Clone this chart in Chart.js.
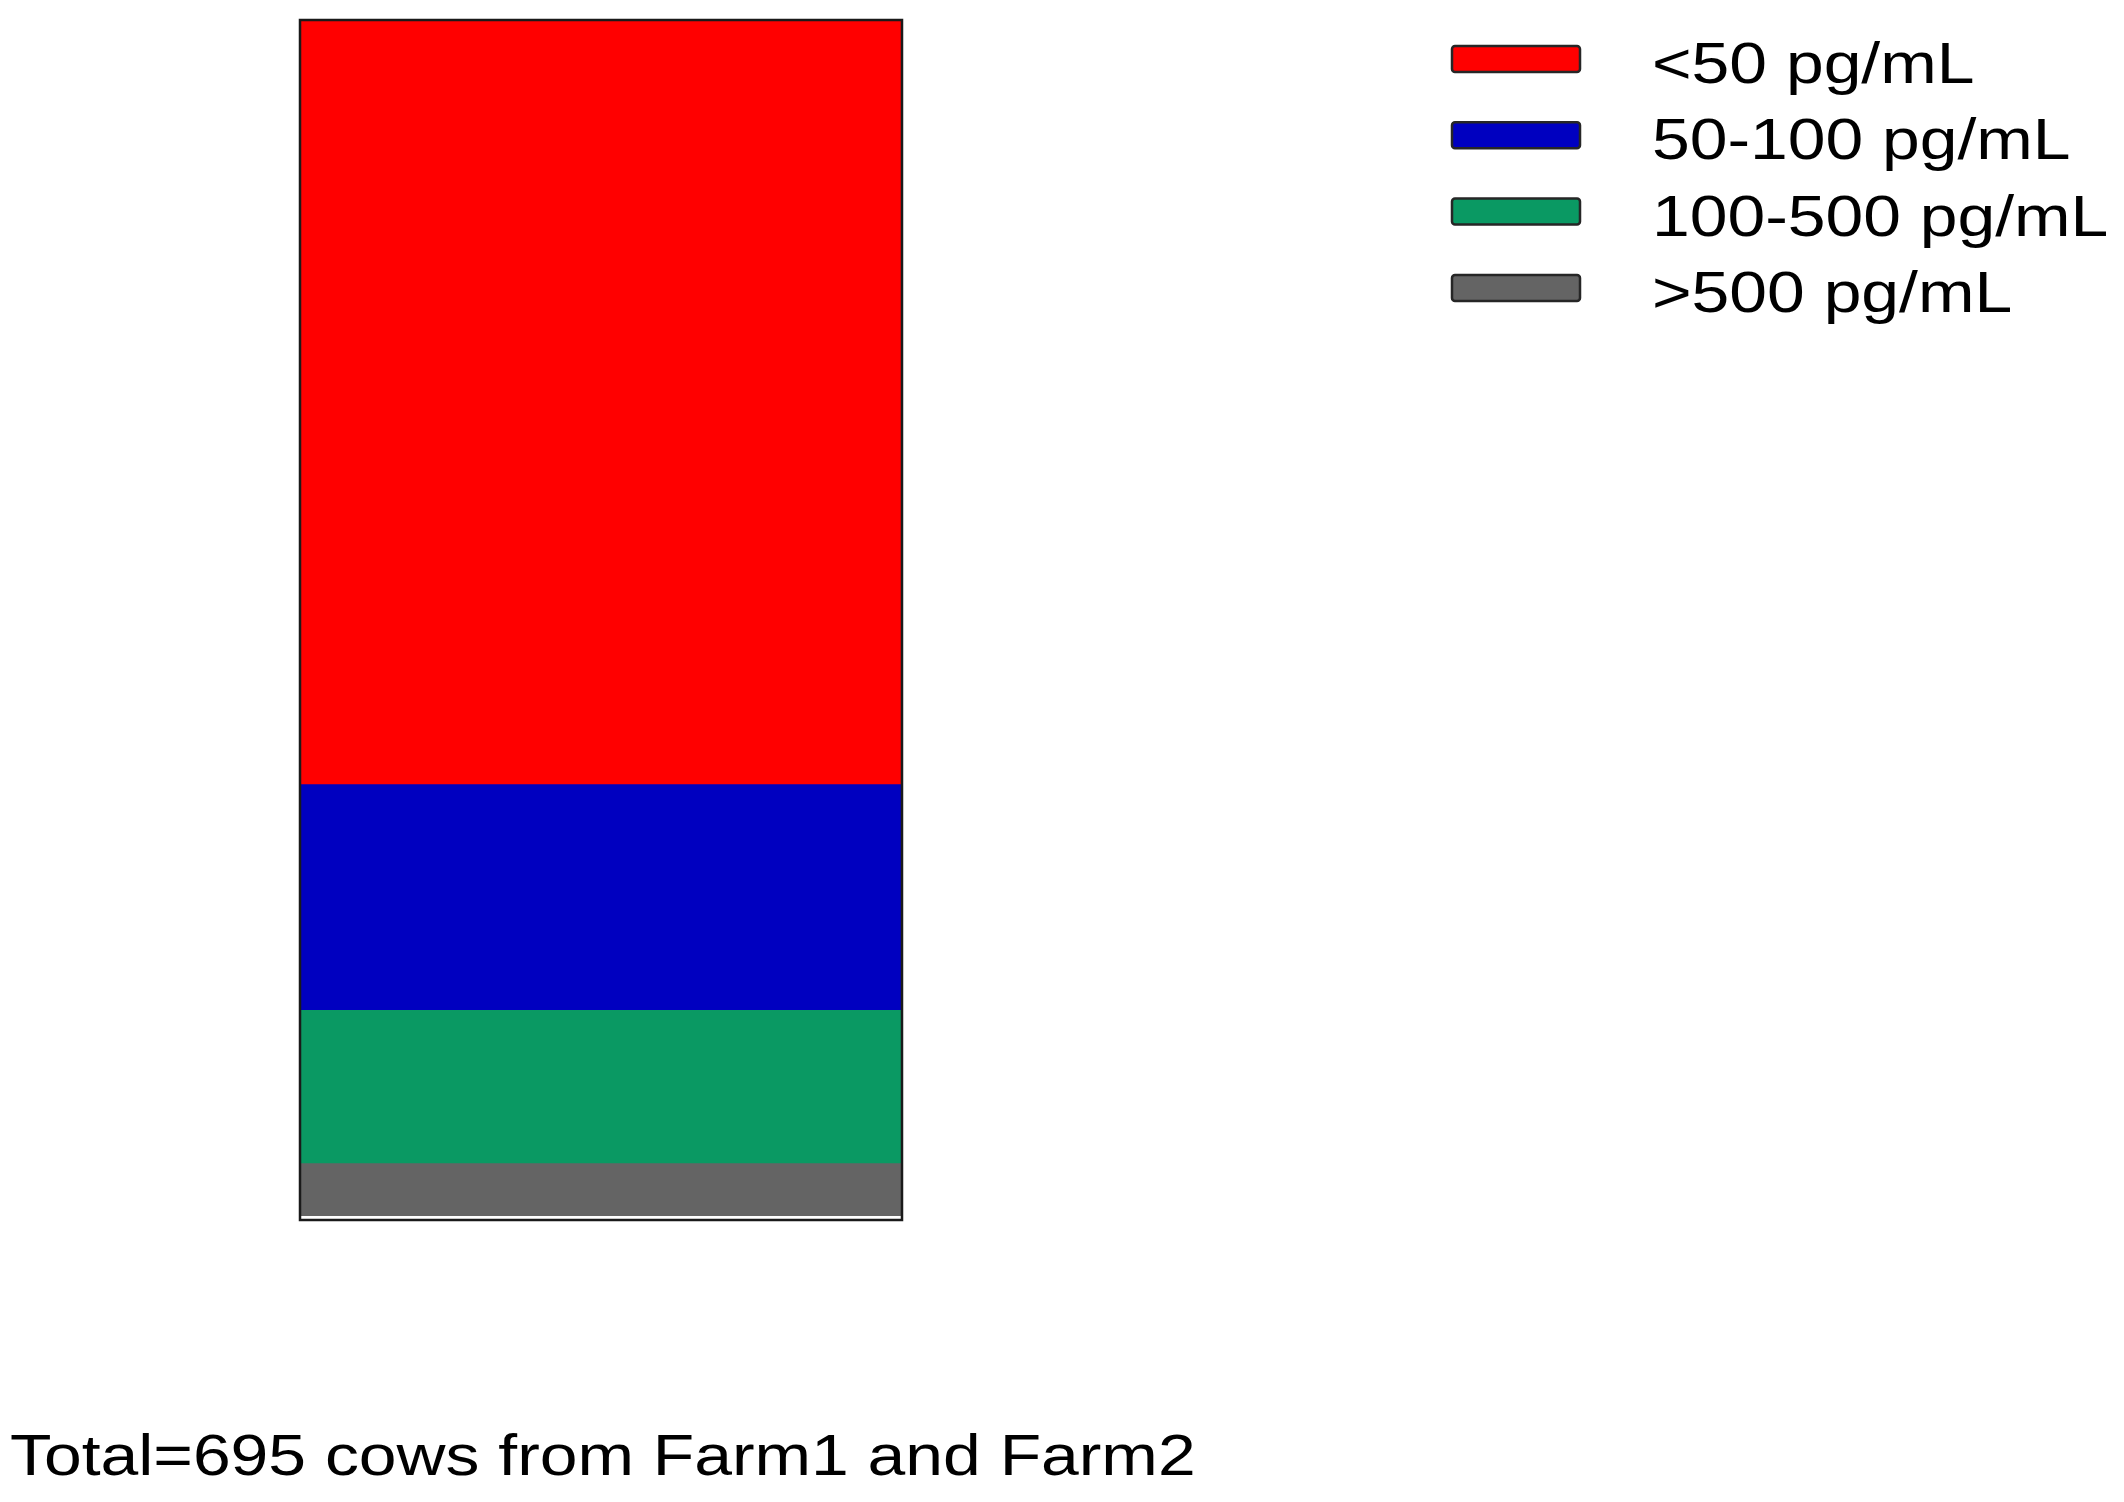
<!DOCTYPE html>
<html>
<head>
<meta charset="utf-8">
<title>Serum concentration groups</title>
<script src="https://cdn.jsdelivr.net/npm/chart.js@4.4.1/dist/chart.umd.min.js"></script>
<style>
  html, body { margin: 0; padding: 0; background: #ffffff; }
  #wrap { width: 2124px; height: 1502px; position: relative; }
</style>
</head>
<body>
<div id="wrap"><canvas id="c" width="2124" height="1502"></canvas></div>
<script>
// Single stacked column: cow counts per concentration band
const categories = ['Farm1 + Farm2'];
const bandLabels = ['<50 pg/mL', '50-100 pg/mL', '100-500 pg/mL', '>500 pg/mL'];
const bandCounts = [444, 131, 89, 31];
const bandColors = ['#ff0000', '#0000c0', '#0a9963', '#646464'];
const farmNames = ['Farm1', 'Farm2'];

const totalCows = bandCounts.reduce((a, b) => a + b, 0);
const captionText = 'Total=' + totalCows + ' cows from ' + farmNames.join(' and ');

const FONT = '57px "Liberation Sans", Arial, sans-serif';
const STRETCH = 1.19;

function stretchedText(ctx, text, x, y) {
  ctx.save();
  ctx.translate(x, y);
  ctx.scale(STRETCH, 1);
  ctx.fillText(text, 0, 0);
  ctx.restore();
}

// Highest band sits at the bottom of the stack, lowest band on top
const stackOrder = bandLabels.map((_, i) => i).reverse();

// Outline drawn around the whole stack (segments have no borders of their own)
const stackOutline = {
  id: 'stackOutline',
  afterDatasetsDraw(chart) {
    const ctx = chart.ctx;
    const first = chart.getDatasetMeta(0).data[0];
    const lastMeta = chart.getDatasetMeta(chart.data.datasets.length - 1).data[0];
    const left = first.x - first.width / 2;
    const right = first.x + first.width / 2;
    const top = lastMeta.y;
    const base = first.base;
    ctx.save();
    // thin light gap under the stack
    ctx.fillStyle = '#ffffff';
    ctx.fillRect(left, base - 1, right - left, 3);
    ctx.strokeStyle = '#1a1a1a';
    ctx.lineWidth = 2.5;
    ctx.strokeRect(left, top, right - left, base + 3 - top);
    ctx.restore();
  }
};

// Legend column on the right and caption below the column
const sideLegend = {
  id: 'sideLegend',
  afterDraw(chart) {
    const ctx = chart.ctx;
    const boxX = 1452, boxW = 128, boxH = 26;
    const firstRow = 59, rowStep = 76.3;
    const textX = 1652;
    ctx.save();
    ctx.font = FONT;
    ctx.textBaseline = 'alphabetic';
    ctx.textAlign = 'left';
    bandLabels.forEach((label, i) => {
      const cy = firstRow + i * rowStep;
      ctx.fillStyle = bandColors[i];
      ctx.strokeStyle = '#262626';
      ctx.lineWidth = 2.5;
      ctx.beginPath();
      ctx.roundRect(boxX, cy - boxH / 2, boxW, boxH, 3);
      ctx.fill();
      ctx.stroke();
      ctx.fillStyle = '#000000';
      stretchedText(ctx, label, textX, cy + 24);
    });
    ctx.fillStyle = '#000000';
    stretchedText(ctx, captionText, 10, 1475);
    ctx.restore();
  }
};

new Chart(document.getElementById('c'), {
  type: 'bar',
  data: {
    labels: categories,
    datasets: stackOrder.map(i => ({
      label: bandLabels[i],
      data: [bandCounts[i]],
      backgroundColor: bandColors[i],
      borderWidth: 0,
      barPercentage: 1,
      categoryPercentage: 1
    }))
  },
  options: {
    responsive: false,
    animation: false,
    devicePixelRatio: 1,
    layout: { padding: { left: 300, right: 1222, top: 20, bottom: 285 } },
    plugins: {
      legend: { display: false },
      tooltip: { enabled: false },
      title: { display: false }
    },
    scales: {
      x: { stacked: true, display: false },
      y: { stacked: true, display: false, min: 0, max: totalCows }
    }
  },
  plugins: [stackOutline, sideLegend]
});
</script>
</body>
</html>
